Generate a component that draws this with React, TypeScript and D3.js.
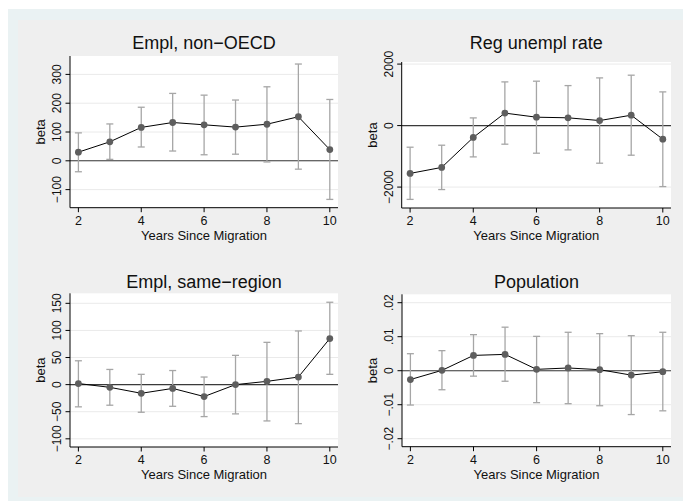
import * as d3 from "d3";

// years on the x axis
const years = [2, 3, 4, 5, 6, 7, 8, 9, 10];

// Empl, non-OECD
const nonOecdBeta = [30, 66, 116, 133, 125, 117, 127, 153, 39];
const nonOecdLo = [-38, 5, 48, 34, 21, 23, -4, -29, -134];
const nonOecdHi = [97, 128, 186, 234, 228, 211, 257, 336, 213];

// Reg unempl rate
const unemplBeta = [-1555, -1360, -386, 406, 273, 253, 164, 338, -443];
const unemplLo = [-2400, -2080, -1018, -605, -898, -790, -1223, -963, -1984];
const unemplHi = [-703, -638, 250, 1421, 1444, 1301, 1551, 1639, 1096];

// Empl, same-region
const sameRegBeta = [2, -5, -16, -7, -22, 0, 6, 14, 85];
const sameRegLo = [-41, -38, -51, -40, -59, -54, -67, -72, 19];
const sameRegHi = [44, 28, 19, 26, 14, 54, 78, 99, 152];

// Population
const popBeta = [-0.0026, 0.0001, 0.0045, 0.0048, 0.0004, 0.0008, 0.0003, -0.0013, -0.0003];
const popLo = [-0.0101, -0.0056, -0.0016, -0.0031, -0.0094, -0.0097, -0.0103, -0.0129, -0.0118];
const popHi = [0.005, 0.0059, 0.0106, 0.0128, 0.0101, 0.0113, 0.0109, 0.0103, 0.0113];

const xTicks = [2, 4, 6, 8, 10];
const nonOecdTicks = [-100, 0, 100, 200, 300];
const unemplTicks = [-2000, 0, 2000];
const sameRegTicks = [-100, -50, 0, 50, 100, 150];
const popTicks = [-0.02, -0.01, 0, 0.01, 0.02];

const popFmt = (v: number) => (v === 0 ? "0" : d3.format(".2f")(v).replace("0.", "."));

const FONT = "'Liberation Sans', Arial, Helvetica, sans-serif";
const MINUS = "\u2212";

const panels = [
  {
    title: "Empl, non\u2212OECD",
    beta: nonOecdBeta, lo: nonOecdLo, hi: nonOecdHi, ticks: nonOecdTicks,
    fmt: (v: number) => String(v),
    box: { left: 70, right: 338, top: 56, bottom: 207.7 },
    yDomain: [-162.8, 363.9], titleY: 49,
  },
  {
    title: "Reg unempl rate",
    beta: unemplBeta, lo: unemplLo, hi: unemplHi, ticks: unemplTicks,
    fmt: (v: number) => String(v),
    box: { left: 401.7, right: 671, top: 62, bottom: 208 },
    yDomain: [-2680, 2068], titleY: 49,
  },
  {
    title: "Empl, same\u2212region",
    beta: sameRegBeta, lo: sameRegLo, hi: sameRegHi, ticks: sameRegTicks,
    fmt: (v: number) => String(v),
    box: { left: 70, right: 338, top: 293.3, bottom: 447 },
    yDomain: [-115.1, 168.5], titleY: 287.5,
  },
  {
    title: "Population",
    beta: popBeta, lo: popLo, hi: popHi, ticks: popTicks,
    fmt: popFmt,
    box: { left: 402, right: 671, top: 294.3, bottom: 446.7 },
    yDomain: [-0.02235, 0.02247], titleY: 287.5,
  },
];

function Panel({ p }: { p: (typeof panels)[number] }) {
  const { box } = p;
  const x = d3.scaleLinear().domain([2, 10]).range([box.left + 8.4, box.right - 8.2]);
  const y = d3.scaleLinear().domain(p.yDomain).range([box.bottom, box.top]);
  const line = d3
    .line<number>()
    .x((_, i) => x(years[i]))
    .y((d) => y(d));
  const cx = (box.left + box.right) / 2;
  const cy = (box.top + box.bottom) / 2;
  return (
    <g>
      <rect x={box.left} y={box.top} width={box.right - box.left} height={box.bottom - box.top} fill="#ffffff" />
      {p.ticks.map((t) => (
        <line key={"g" + t} x1={box.left} x2={box.right} y1={y(t)} y2={y(t)} stroke="#eaeaea" strokeWidth={1} />
      ))}
      <line x1={box.left} x2={box.right} y1={y(0)} y2={y(0)} stroke="#3a3a3a" strokeWidth={1.1} />
      {years.map((yr, i) => (
        <g key={"e" + yr} stroke="#a6a6a6" strokeWidth={1.3}>
          <line x1={x(yr)} x2={x(yr)} y1={y(p.lo[i])} y2={y(p.hi[i])} />
          <line x1={x(yr) - 3.5} x2={x(yr) + 3.5} y1={y(p.lo[i])} y2={y(p.lo[i])} />
          <line x1={x(yr) - 3.5} x2={x(yr) + 3.5} y1={y(p.hi[i])} y2={y(p.hi[i])} />
        </g>
      ))}
      <path d={line(p.beta) ?? ""} fill="none" stroke="#000" strokeWidth={1} />
      {years.map((yr, i) => (
        <circle key={"c" + yr} cx={x(yr)} cy={y(p.beta[i])} r={3.4} fill="#5e5e5e" />
      ))}
      {/* axes */}
      <line x1={box.left} x2={box.left} y1={box.top} y2={box.bottom} stroke="#000" strokeWidth={1} />
      <line x1={box.left} x2={box.right} y1={box.bottom} y2={box.bottom} stroke="#000" strokeWidth={1} />
      {p.ticks.map((t) => (
        <g key={"yt" + t}>
          <line x1={box.left - 4.5} x2={box.left} y1={y(t)} y2={y(t)} stroke="#000" />
          <text
            transform={`translate(${box.left - 9},${y(t)}) rotate(-90)`}
            textAnchor="middle"
            fontSize={12}
            fill="#111"
          >
            {p.fmt(t).replace("-", MINUS)}
          </text>
        </g>
      ))}
      {xTicks.map((t) => (
        <g key={"xt" + t}>
          <line x1={x(t)} x2={x(t)} y1={box.bottom} y2={box.bottom + 4.5} stroke="#000" />
          <text x={x(t)} y={box.bottom + 17} textAnchor="middle" fontSize={12.5} fill="#111">
            {t}
          </text>
        </g>
      ))}
      <text x={cx} y={box.bottom + 32} textAnchor="middle" fontSize={13} fill="#111">
        Years Since Migration
      </text>
      <text transform={`translate(${box.left - 25},${cy}) rotate(-90)`} textAnchor="middle" fontSize={13} fill="#111">
        beta
      </text>
      <text x={cx} y={p.titleY} textAnchor="middle" fontSize={18} fill="#111">
        {p.title}
      </text>
    </g>
  );
}

export default function App() {
  return (
    <svg
      width={683}
      height={501}
      style={{ position: "absolute", left: 0, top: 0, fontFamily: FONT }}
    >
      <rect x={0} y={0} width={683} height={501} fill="#ffffff" />
      <rect x={8} y={9} width={675} height={492} fill="#eaf2f3" />
      <rect x={18} y={20} width={665} height={477} fill="#efefef" />
      {panels.map((p) => (
        <Panel key={p.title} p={p} />
      ))}
    </svg>
  );
}
